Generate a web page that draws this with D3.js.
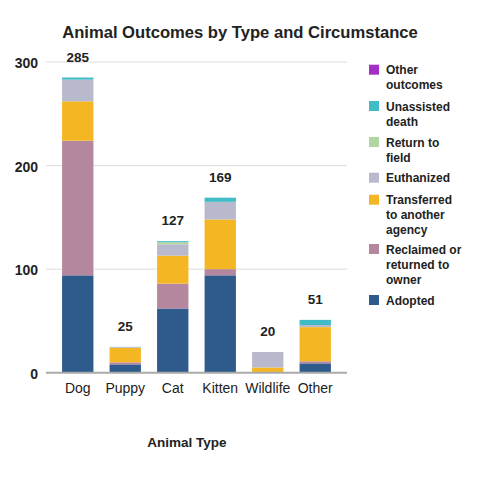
<!DOCTYPE html>
<html>
<head>
<meta charset="utf-8">
<script src="https://cdn.jsdelivr.net/npm/d3@7"></script>
<style>
  body { margin: 0; background: #fff; }
  text { font-family: "Liberation Sans", Arial, sans-serif; fill: #222; }
</style>
</head>
<body>
<div id="chart"></div>
<script>
// categories along the x axis
const animalTypes = ["Dog", "Puppy", "Cat", "Kitten", "Wildlife", "Other"];

// outcome series, bottom to top of the stack
const adopted     = [94, 8, 62, 94, 0, 9];
const reclaimed   = [130, 2, 24, 6, 0, 2];
const transferred = [38, 14, 27, 48, 5, 33];
const euthanized  = [21, 1, 11, 17, 15, 2];
const returnField = [0, 0, 2, 0, 0, 0];
const unassisted  = [2, 0, 1, 4, 0, 5];
const otherOut    = [0, 0, 0, 0, 0, 0];

// totals printed above each bar
const totals = [285, 25, 127, 169, 20, 51];

const yTicks = [0, 100, 200, 300];

const seriesNames = ["Adopted", "Reclaimed or returned to owner", "Transferred to another agency",
  "Euthanized", "Return to field", "Unassisted death", "Other outcomes"];
const seriesValues = [adopted, reclaimed, transferred, euthanized, returnField, unassisted, otherOut];
const colors = ["#2f5b8c", "#b4879f", "#f4b723", "#b8b9cc", "#b1d6a1", "#40bcc6", "#a52fc4"];

// legend text split into lines, top to bottom
const legendLines = [
  ["Other", "outcomes"],
  ["Unassisted", "death"],
  ["Return to", "field"],
  ["Euthanized"],
  ["Transferred", "to another", "agency"],
  ["Reclaimed or", "returned to", "owner"],
  ["Adopted"]
];
const legendColors = colors.slice().reverse();

// build rows for d3.stack
const rows = animalTypes.map((t, i) => {
  const r = { type: t };
  seriesNames.forEach((s, j) => { r[s] = seriesValues[j][i]; });
  return r;
});

const width = 480, height = 480;
const svg = d3.select("#chart").append("svg")
  .attr("width", width)
  .attr("height", height);

const plotLeft = 46, plotRight = 347;

const x = d3.scaleBand()
  .domain(animalTypes)
  .range([54, 339])
  .paddingInner(0.34)
  .paddingOuter(0.17);

const y = d3.scaleLinear()
  .domain([0, 300])
  .range([372.7, 62]);

// gridlines
svg.append("g").selectAll("line")
  .data(yTicks.filter(d => d > 0))
  .enter().append("line")
  .attr("x1", plotLeft)
  .attr("x2", plotRight)
  .attr("y1", d => y(d))
  .attr("y2", d => y(d))
  .attr("stroke", "#dcdcdc")
  .attr("stroke-width", 1);

// y tick labels
svg.append("g").selectAll("text")
  .data(yTicks)
  .enter().append("text")
  .attr("x", 38)
  .attr("y", d => y(d) + 6)
  .attr("text-anchor", "end")
  .style("font-size", "14px")
  .style("font-weight", "bold")
  .text(d => d);

// stacked bars
const stacked = d3.stack().keys(seriesNames)(rows);

svg.append("g").selectAll("g")
  .data(stacked)
  .enter().append("g")
  .attr("fill", (d, i) => colors[i])
  .selectAll("rect")
  .data(d => d)
  .enter().append("rect")
  .attr("x", d => x(d.data.type))
  .attr("width", x.bandwidth())
  .attr("y", d => y(d[1]))
  .attr("height", d => y(d[0]) - y(d[1]));

// baseline
svg.append("line")
  .attr("x1", plotLeft)
  .attr("x2", plotRight)
  .attr("y1", y(0))
  .attr("y2", y(0))
  .attr("stroke", "#aaaaaa")
  .attr("stroke-width", 2);

// totals above bars
svg.append("g").selectAll("text")
  .data(totals)
  .enter().append("text")
  .attr("x", (d, i) => x(animalTypes[i]) + x.bandwidth() / 2)
  .attr("y", d => y(d) - 16)
  .attr("text-anchor", "middle")
  .style("font-size", "13.5px")
  .style("font-weight", "bold")
  .text(d => d);

// x tick labels
svg.append("g").selectAll("text")
  .data(animalTypes)
  .enter().append("text")
  .attr("x", d => x(d) + x.bandwidth() / 2)
  .attr("y", 393)
  .attr("text-anchor", "middle")
  .style("font-size", "14px")
  .text(d => d);

// axis title
svg.append("text")
  .attr("x", 187)
  .attr("y", 447)
  .attr("text-anchor", "middle")
  .style("font-size", "13.5px")
  .style("font-weight", "bold")
  .text("Animal Type");

// chart title
svg.append("text")
  .attr("x", 240)
  .attr("y", 38)
  .attr("text-anchor", "middle")
  .style("font-size", "16.6px")
  .style("font-weight", "bold")
  .text("Animal Outcomes by Type and Circumstance");

// legend
const legendTops = [69.7, 106, 142, 177.7, 199.7, 249, 300];
const legend = svg.append("g");
legendLines.forEach((lines, i) => {
  const cy = legendTops[i];
  legend.append("rect")
    .attr("x", 369)
    .attr("y", cy - 5)
    .attr("width", 10)
    .attr("height", 10)
    .attr("fill", legendColors[i]);
  lines.forEach((ln, k) => {
    legend.append("text")
      .attr("x", 386)
      .attr("y", cy + 4.5 + k * 15)
      .style("font-size", "12px")
      .style("font-weight", "bold")
      .text(ln);
  });
});
</script>
</body>
</html>
